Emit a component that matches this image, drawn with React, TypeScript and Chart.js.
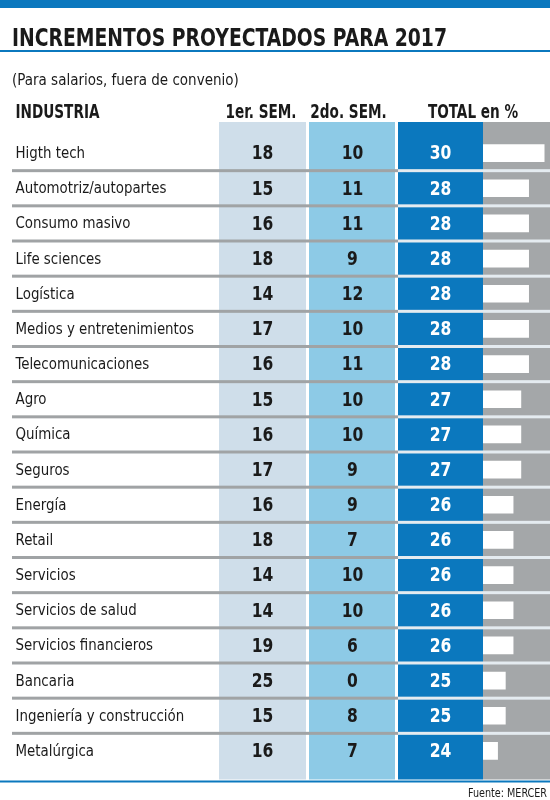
import React, { useEffect, useRef } from "react";
import { Chart, registerables } from "chart.js";

Chart.register(...registerables);

const industries = [
  "Higth tech",
  "Automotriz/autopartes",
  "Consumo masivo",
  "Life sciences",
  "Logística",
  "Medios y entretenimientos",
  "Telecomunicaciones",
  "Agro",
  "Química",
  "Seguros",
  "Energía",
  "Retail",
  "Servicios",
  "Servicios de salud",
  "Servicios financieros",
  "Bancaria",
  "Ingeniería y construcción",
  "Metalúrgica",
];
const firstSem = [18, 15, 16, 18, 14, 17, 16, 15, 16, 17, 16, 18, 14, 14, 19, 25, 15, 16];
const secondSem = [10, 11, 11, 9, 12, 10, 11, 10, 10, 9, 9, 7, 10, 10, 6, 0, 8, 7];
const totals = [30, 28, 28, 28, 28, 28, 28, 27, 27, 27, 26, 26, 26, 26, 26, 25, 25, 24];
const columnHeaders = ["INDUSTRIA", "1er. SEM.", "2do. SEM.", "TOTAL en %"];
const titleText = "INCREMENTOS PROYECTADOS PARA 2017";
const subtitleText = "(Para salarios, fuera de convenio)";
const sourceText = "Fuente: MERCER";

// scale range of the total bars
const X_MIN = 22.12;
const X_MAX = 30.75;

const FONT = '"DejaVu Sans Condensed", "DejaVu Sans", Roboto, sans-serif';
const BLUE = "#0b78be";
const COL1 = "#cfdeea";
const COL2 = "#8dcae6";
const GRAY = "#a4a7a9";
const SEP = "#a0a3a5";
const TEXT = "#1a1a1a";

// column layout (pixels)
const COLS = [
  { x0: 219, x1: 306, cx: 262.5 },
  { x0: 309, x1: 395, cx: 352.5 },
  { x0: 398, x1: 483, cx: 440.5 },
];

// horizontally condensed text: width factor derived from a reference string
function squeeze(ctx: CanvasRenderingContext2D, font: string, sample: string, target: number) {
  ctx.save();
  ctx.font = font;
  const w = ctx.measureText(sample).width;
  ctx.restore();
  return w > 0 ? Math.min(1, target / w) : 1;
}

function drawText(
  ctx: CanvasRenderingContext2D,
  text: string,
  x: number,
  y: number,
  font: string,
  color: string,
  align: CanvasTextAlign,
  sx: number
) {
  ctx.save();
  ctx.font = font;
  ctx.fillStyle = color;
  ctx.textAlign = align;
  ctx.textBaseline = "alphabetic";
  ctx.translate(x, y);
  ctx.scale(sx, 1);
  ctx.fillText(text, 0, 0);
  ctx.restore();
}

const TITLE_FONT = `bold 25px ${FONT}`;
const SUB_FONT = `15px ${FONT}`;
const HEAD_FONT = `bold 19px ${FONT}`;
const LABEL_FONT = `16.5px ${FONT}`;
const NUM_FONT = `bold 20px ${FONT}`;
const SRC_FONT = `12px ${FONT}`;

const tablePlugin = {
  id: "tablePlugin",
  beforeDraw(chart: any) {
    const { ctx, width } = chart;
    ctx.save();
    ctx.fillStyle = "#ffffff";
    ctx.fillRect(0, 0, width, chart.height);
    ctx.fillStyle = BLUE;
    ctx.fillRect(0, 0, width, 8);
    ctx.fillRect(0, 50, width, 2);
    ctx.fillRect(0, 780.5, width, 2);
    ctx.restore();

    drawText(ctx, titleText, 12, 45.5, TITLE_FONT, TEXT, "left", squeeze(ctx, TITLE_FONT, titleText, 435));
    drawText(ctx, subtitleText, 12, 84.5, SUB_FONT, TEXT, "left", squeeze(ctx, SUB_FONT, subtitleText, 234));
    const hs = squeeze(ctx, HEAD_FONT, columnHeaders[0], 84);
    drawText(ctx, columnHeaders[0], 15.5, 117.5, HEAD_FONT, TEXT, "left", hs);
    drawText(ctx, columnHeaders[1], 261, 117.5, HEAD_FONT, TEXT, "center", hs);
    drawText(ctx, columnHeaders[2], 348.5, 117.5, HEAD_FONT, TEXT, "center", hs);
    drawText(ctx, columnHeaders[3], 473, 117.5, HEAD_FONT, TEXT, "center", hs);
    drawText(ctx, sourceText, 547, 797, SRC_FONT, TEXT, "right", squeeze(ctx, SRC_FONT, sourceText, 79));
  },
  beforeDatasetsDraw(chart: any) {
    const { ctx, chartArea } = chart;
    const yScale = chart.scales.y;
    const top = chartArea.top - 13.5;
    const bottom = chartArea.bottom + 11;
    ctx.save();
    ctx.fillStyle = COL1;
    ctx.fillRect(COLS[0].x0, top, COLS[0].x1 - COLS[0].x0, bottom - top);
    ctx.fillStyle = COL2;
    ctx.fillRect(COLS[1].x0, top, COLS[1].x1 - COLS[1].x0, bottom - top);
    ctx.fillStyle = BLUE;
    ctx.fillRect(COLS[2].x0, top, COLS[2].x1 - COLS[2].x0, bottom - top);
    ctx.fillStyle = GRAY;
    ctx.fillRect(chartArea.left, top, chartArea.right - chartArea.left, bottom - top);
    for (let i = 1; i < industries.length; i++) {
      const y = (yScale.getPixelForValue(i - 1) + yScale.getPixelForValue(i)) / 2;
      ctx.fillStyle = SEP;
      ctx.fillRect(12, y - 1.5, COLS[2].x0 - 12, 3);
      ctx.fillStyle = "#e4ebf0";
      ctx.fillRect(COLS[2].x0, y - 1.5, chartArea.right - COLS[2].x0, 3);
    }
    ctx.restore();

    const ls = squeeze(ctx, LABEL_FONT, industries[5], 178.5);
    const ns = squeeze(ctx, NUM_FONT, "18", 21.6);
    const labels = chart.data.labels as string[];
    labels.forEach((label, i) => {
      const yc = yScale.getPixelForValue(i);
      drawText(ctx, label, 15.5, yc + 5, LABEL_FONT, TEXT, "left", ls);
      drawText(ctx, String(firstSem[i]), COLS[0].cx, yc + 6.3, NUM_FONT, TEXT, "center", ns);
      drawText(ctx, String(secondSem[i]), COLS[1].cx, yc + 6.3, NUM_FONT, TEXT, "center", ns);
      drawText(ctx, String(totals[i]), COLS[2].cx, yc + 6.3, NUM_FONT, "#ffffff", "center", ns);
    });
  },
};

export default function App() {
  const canvasRef = useRef<HTMLCanvasElement | null>(null);

  useEffect(() => {
    if (!canvasRef.current) return;
    const chart = new Chart(canvasRef.current, {
      type: "bar",
      data: {
        labels: industries,
        datasets: [
          {
            data: totals,
            backgroundColor: "#ffffff",
            borderWidth: 0,
            barThickness: 17,
            base: X_MIN,
          },
        ],
      },
      options: {
        indexAxis: "y",
        animation: false,
        responsive: false,
        devicePixelRatio: 1,
        layout: { padding: { top: 135.5, bottom: 31.5, left: 15, right: 0 } },
        plugins: {
          legend: { display: false },
          tooltip: { enabled: false },
          title: { display: false },
        },
        scales: {
          x: {
            type: "linear",
            min: X_MIN,
            max: X_MAX,
            display: false,
          },
          y: {
            type: "category",
            grid: { display: false },
            border: { display: false },
            afterFit: (scale: any) => {
              scale.width = 468;
            },
            ticks: { display: false },
          },
        },
      },
      plugins: [tablePlugin],
    });
    return () => chart.destroy();
  }, []);

  return (
    <div style={{ position: "absolute", left: 0, top: 0, width: 550, height: 800 }}>
      <canvas ref={canvasRef} width={550} height={800} style={{ width: 550, height: 800 }} />
    </div>
  );
}
